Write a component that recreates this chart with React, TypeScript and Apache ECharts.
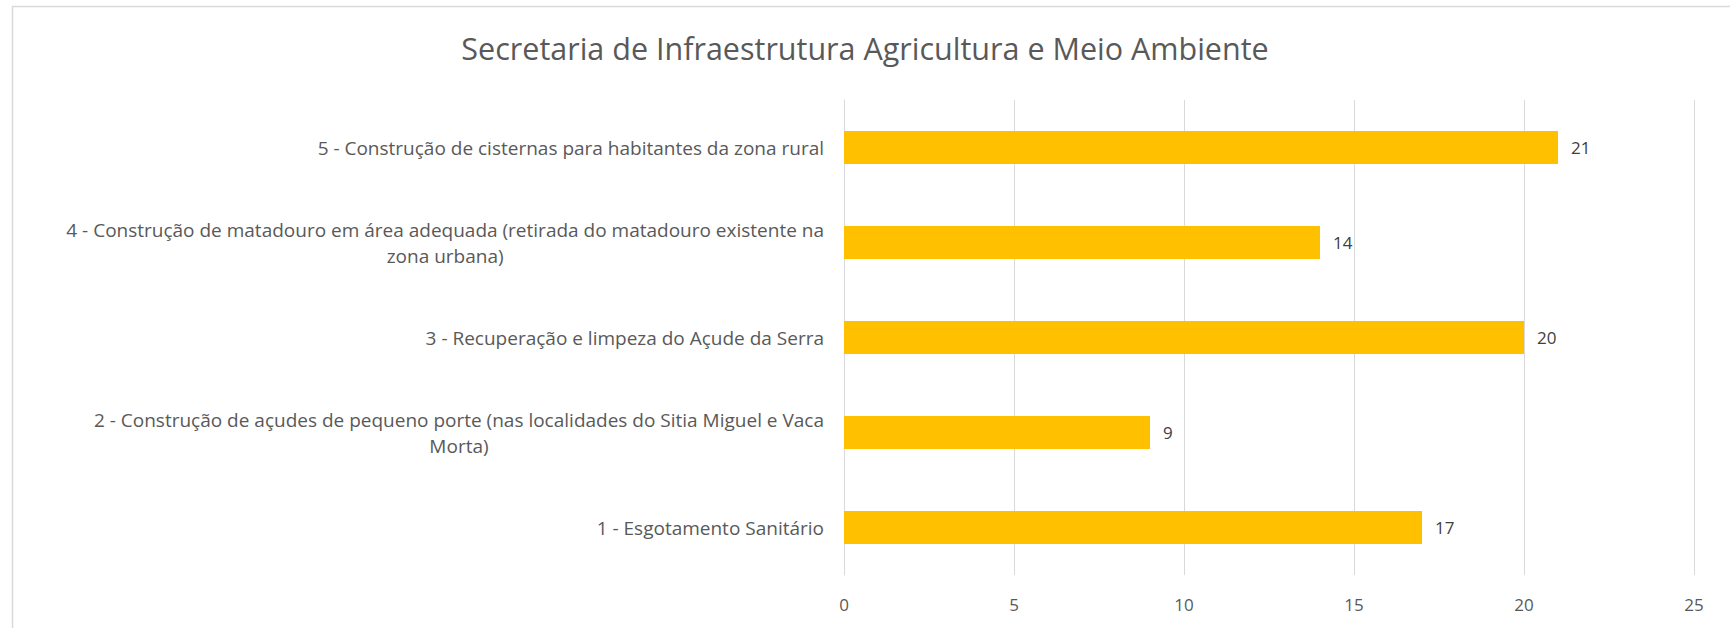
import React, { useEffect, useRef } from "react";
import * as echarts from "echarts";

const title = "Secretaria de Infraestrutura Agricultura e Meio Ambiente";
const categories = [
  "1 - Esgotamento Sanitário",
  "2 - Construção de açudes de pequeno porte (nas localidades do Sitia Miguel e Vaca Morta)",
  "3 - Recuperação e limpeza do Açude da Serra",
  "4 - Construção de matadouro em área adequada (retirada do matadouro existente na zona urbana)",
  "5 - Construção de cisternas para habitantes da zona rural",
];
const values = [17, 9, 20, 14, 21];
const xTicks = { min: 0, max: 25, interval: 5 };

function wrap(s: string, maxChars: number): string[] {
  const words = s.split(" ");
  const lines: string[] = [];
  let cur = "";
  for (const w of words) {
    const next = cur ? cur + " " + w : w;
    if (next.length > maxChars && cur) {
      lines.push(cur);
      cur = w;
    } else cur = next;
  }
  if (cur) lines.push(cur);
  return lines;
}

export default function App() {
  const ref = useRef<HTMLDivElement>(null);
  useEffect(() => {
    if (!ref.current) return;
    const chart = echarts.init(ref.current, null, { renderer: "svg" });
    const font = "'Open Sans', sans-serif";
    chart.setOption({
      animation: false,
      backgroundColor: "#ffffff",
      textStyle: { fontFamily: font },
      title: {
        text: title,
        left: "center",
        top: 27,
        textStyle: { fontFamily: font, fontSize: 30.5, fontWeight: "normal", color: "#595959" },
      },
      graphic: [
        {
          type: "rect",
          shape: { x: 12.5, y: 6.5, width: 1740, height: 640 },
          style: { fill: "none", stroke: "#d9d9d9", lineWidth: 1.5 },
          silent: true,
        },
      ],
      grid: { left: 844, right: 36, top: 100, bottom: 53, containLabel: false },
      xAxis: {
        type: "value",
        min: xTicks.min,
        max: xTicks.max,
        interval: xTicks.interval,
        axisLine: { show: false },
        axisTick: { show: false },
        splitLine: { show: true, lineStyle: { color: "#d9d9d9", width: 1 } },
        axisLabel: { color: "#595959", fontSize: 17, margin: 21, fontFamily: font },
      },
      yAxis: {
        type: "category",
        data: categories,
        axisLine: { show: true, lineStyle: { color: "#d9d9d9", width: 1 } },
        axisTick: { show: false },
        axisLabel: {
          color: "#595959",
          fontSize: 19,
          margin: 20,
          fontFamily: font,
          formatter: (v: string) =>
            wrap(v, 81)
              .map((l) => "{c|" + l + "}")
              .join("\n"),
          rich: {
            c: { align: "center", color: "#595959", fontSize: 19, fontFamily: font, lineHeight: 26 },
          },
        },
      },
      series: [
        {
          type: "bar",
          data: values,
          barWidth: 33,
          itemStyle: { color: "#FFC000" },
          label: {
            show: true,
            position: "right",
            distance: 13,
            color: "#404040",
            fontSize: 17,
            fontFamily: font,
          },
        },
      ],
    });
    return () => chart.dispose();
  }, []);
  return (
    <div
      ref={ref}
      style={{ position: "fixed", left: 0, top: 0, width: 1730, height: 628 }}
    />
  );
}
